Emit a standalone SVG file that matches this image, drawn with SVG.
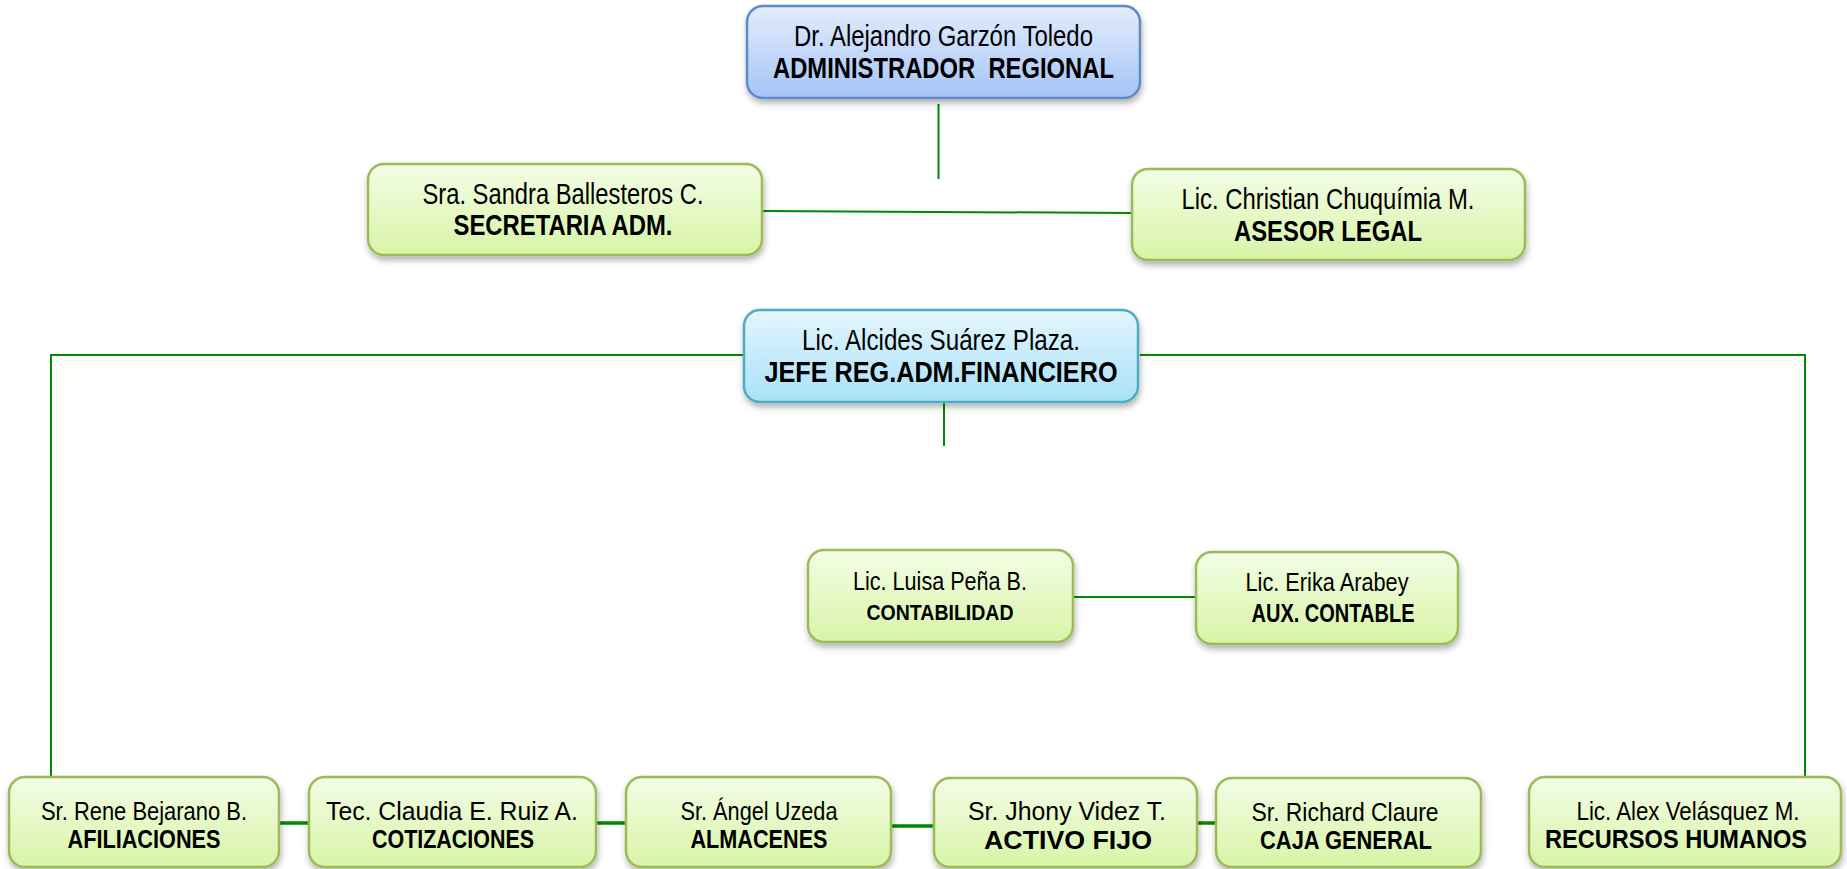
<svg xmlns="http://www.w3.org/2000/svg" width="1847" height="869" viewBox="0 0 1847 869">
<defs>
<linearGradient id="gGreen" x1="0" y1="0" x2="0" y2="1"><stop offset="0" stop-color="#f3fde6"/><stop offset="1" stop-color="#d8f4a6"/></linearGradient>
<linearGradient id="gBlue" x1="0" y1="0" x2="0" y2="1"><stop offset="0" stop-color="#e3edfc"/><stop offset="1" stop-color="#a5c4f7"/></linearGradient>
<linearGradient id="gCyan" x1="0" y1="0" x2="0" y2="1"><stop offset="0" stop-color="#e4f6fd"/><stop offset="1" stop-color="#a9e1f8"/></linearGradient>
<filter id="sh" x="-10%" y="-20%" width="120%" height="150%"><feDropShadow dx="1" dy="4" stdDeviation="3" flood-color="#000" flood-opacity="0.3"/></filter>
</defs>
<style>
.box{stroke-width:2.5;filter:url(#sh)}
.green{fill:url(#gGreen);stroke:#9bbb59}
.blue{fill:url(#gBlue);stroke:#5b8bc8}
.cyan{fill:url(#gCyan);stroke:#4bacc6}
text{font-family:"Liberation Sans Narrow","Liberation Sans",Arial,sans-serif;fill:#000;text-anchor:middle}
.n{font-size:30px}
.t{font-size:30px;font-weight:bold}
.sn{font-size:25px}
.st{font-size:25px;font-weight:bold}
.ln{stroke:#008a00;stroke-width:2;fill:none}
.lt{stroke:#008a00;stroke-width:3.5;fill:none}
</style>
<rect width="1847" height="869" fill="#fff"/>
<g id="connectors">
<line class="ln" x1="938.5" y1="104" x2="938.5" y2="179"/>
<line class="ln" x1="762" y1="211" x2="1132" y2="213"/>
<polyline class="ln" points="744,355 51,355 51,777"/>
<polyline class="ln" points="1140,355 1805,355 1805,777"/>
<line class="ln" x1="944" y1="403" x2="944" y2="446"/>
<line class="ln" x1="1073" y1="597" x2="1196" y2="597"/>
<line class="lt" x1="279" y1="823" x2="309" y2="823"/>
<line class="lt" x1="596" y1="823" x2="626" y2="823"/>
<line class="lt" x1="891" y1="826" x2="934" y2="826"/>
<line class="lt" x1="1197" y1="823" x2="1216" y2="823"/>
</g>
<g id="n-admin">
<rect class="box blue" x="747" y="6" width="393" height="92" rx="16"/>
<text class="n" x="943.5" y="46" textLength="299" lengthAdjust="spacingAndGlyphs">Dr. Alejandro Garzón Toledo</text>
<text class="t" x="943.5" y="78" textLength="341" lengthAdjust="spacingAndGlyphs" xml:space="preserve">ADMINISTRADOR  REGIONAL</text>
</g>
<g id="n-secretaria">
<rect class="box green" x="368" y="164" width="394" height="91" rx="16"/>
<text class="n" x="563" y="204" textLength="281" lengthAdjust="spacingAndGlyphs">Sra. Sandra Ballesteros C.</text>
<text class="t" x="563" y="235" textLength="219" lengthAdjust="spacingAndGlyphs">SECRETARIA ADM.</text>
</g>
<g id="n-asesor">
<rect class="box green" x="1132" y="169" width="393" height="91" rx="16"/>
<text class="n" x="1328" y="209" textLength="293" lengthAdjust="spacingAndGlyphs">Lic. Christian Chuquímia M.</text>
<text class="t" x="1328" y="241" textLength="188" lengthAdjust="spacingAndGlyphs">ASESOR LEGAL</text>
</g>
<g id="n-jefe">
<rect class="box cyan" x="744" y="310" width="394" height="92" rx="16"/>
<text class="n" x="941" y="350" textLength="278" lengthAdjust="spacingAndGlyphs">Lic. Alcides Suárez Plaza.</text>
<text class="t" x="941" y="382" textLength="353" lengthAdjust="spacingAndGlyphs">JEFE REG.ADM.FINANCIERO</text>
</g>
<g id="n-contabilidad">
<rect class="box green" x="808" y="550" width="265" height="92" rx="16"/>
<text class="sn" x="940" y="590" textLength="174" lengthAdjust="spacingAndGlyphs">Lic. Luisa Peña B.</text>
<text class="st" x="940" y="620" style="font-size:22px" textLength="147" lengthAdjust="spacingAndGlyphs">CONTABILIDAD</text>
</g>
<g id="n-auxcontable">
<rect class="box green" x="1196" y="552" width="262" height="92" rx="16"/>
<text class="sn" x="1327" y="591" textLength="163" lengthAdjust="spacingAndGlyphs">Lic. Erika Arabey</text>
<text class="st" x="1333" y="622" style="font-size:25px" textLength="163" lengthAdjust="spacingAndGlyphs">AUX. CONTABLE</text>
</g>
<g id="n-afiliaciones">
<rect class="box green" x="9" y="777" width="270" height="90" rx="16"/>
<text class="sn" x="144" y="820" textLength="206" lengthAdjust="spacingAndGlyphs">Sr. Rene Bejarano B.</text>
<text class="st" x="144" y="848" textLength="153" lengthAdjust="spacingAndGlyphs">AFILIACIONES</text>
</g>
<g id="n-cotizaciones">
<rect class="box green" x="309" y="777" width="287" height="90" rx="16"/>
<text class="sn" x="452" y="820" textLength="252" lengthAdjust="spacingAndGlyphs">Tec. Claudia E. Ruiz A.</text>
<text class="st" x="453" y="848" textLength="162" lengthAdjust="spacingAndGlyphs">COTIZACIONES</text>
</g>
<g id="n-almacenes">
<rect class="box green" x="626" y="777" width="265" height="90" rx="16"/>
<text class="sn" x="759" y="820" textLength="157" lengthAdjust="spacingAndGlyphs">Sr. Ángel Uzeda</text>
<text class="st" x="759" y="848" textLength="137" lengthAdjust="spacingAndGlyphs">ALMACENES</text>
</g>
<g id="n-activofijo">
<rect class="box green" x="934" y="778" width="263" height="89" rx="16"/>
<text class="sn" x="1067" y="820" textLength="198" lengthAdjust="spacingAndGlyphs">Sr. Jhony Videz T.</text>
<text class="st" x="1068" y="849" textLength="168" lengthAdjust="spacingAndGlyphs">ACTIVO FIJO</text>
</g>
<g id="n-caja">
<rect class="box green" x="1216" y="778" width="265" height="89" rx="16"/>
<text class="sn" x="1345" y="821" textLength="187" lengthAdjust="spacingAndGlyphs">Sr. Richard Claure</text>
<text class="st" x="1346" y="849" textLength="172" lengthAdjust="spacingAndGlyphs">CAJA GENERAL</text>
</g>
<g id="n-rrhh">
<rect class="box green" x="1529" y="777" width="312" height="90" rx="16"/>
<text class="sn" x="1688" y="820" textLength="223" lengthAdjust="spacingAndGlyphs">Lic. Alex Velásquez M.</text>
<text class="st" x="1676" y="848" textLength="262" lengthAdjust="spacingAndGlyphs">RECURSOS HUMANOS</text>
</g>
</svg>
